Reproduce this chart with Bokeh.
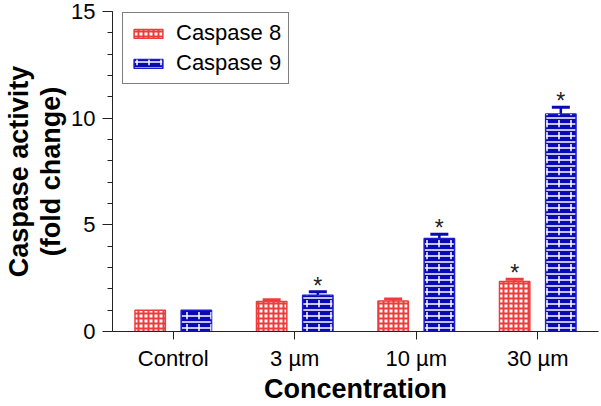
from bokeh.plotting import figure
from bokeh.models import (ColumnDataSource, FactorRange, Range1d, Whisker, TeeHead,
                          SingleIntervalTicker, FixedTicker, Legend, LegendItem, LinearAxis)
from bokeh.transform import dodge
from bokeh.core.properties import value
from bokeh.embed import file_html
from bokeh.resources import INLINE

# ---- data ----
categories = ["Control", "3 µm", "10 µm", "30 µm"]
series = ["Caspase 8", "Caspase 9"]
casp8 = [1.0, 1.41, 1.43, 2.34]
casp8_err = [0.0, 0.08, 0.09, 0.11]
casp9 = [1.0, 1.70, 4.36, 10.2]
casp9_err = [0.0, 0.16, 0.20, 0.31]
casp8_sig = [False, False, False, True]
casp9_sig = [False, True, True, True]
y_title_lines = ["Caspase activity", "(fold change)"]
x_title = "Concentration"

FONT = "Liberation Sans"
RED = "#ee3b3b"
BLUE = "#0a0ab4"
BLUE_LINE = "#1c1cd0"
OFF = 0.19

p = figure(width=600, height=406,
           x_range=FactorRange(factors=categories, range_padding=0),
           y_range=Range1d(0, 15),
           output_backend="svg", toolbar_location=None,
           min_border_left=110, min_border_right=2,
           min_border_top=11, min_border_bottom=72)
p.outline_line_color = None
p.xgrid.grid_line_color = None
p.ygrid.grid_line_color = None

src = ColumnDataSource(dict(cat=categories, c8=casp8, c9=casp9))

r8 = p.vbar(x=dodge("cat", -OFF, range=p.x_range), top="c8", width=0.25, source=src,
            fill_color="white", line_color=RED, line_width=1.5,
            hatch_pattern="cross", hatch_color=RED, hatch_scale=5, hatch_weight=2.0)
r9 = p.vbar(x=dodge("cat", OFF, range=p.x_range), top="c9", width=0.25, source=src,
            fill_color=BLUE, line_color=BLUE_LINE, line_width=1.5,
            hatch_pattern="horizontal_line", hatch_color="white",
            hatch_scale=6, hatch_weight=1.5)
r9b = p.vbar(x=dodge("cat", OFF, range=p.x_range), top="c9", width=0.25, source=src,
             fill_alpha=0, line_alpha=0,
             hatch_pattern="vertical_dash", hatch_color="white",
             hatch_scale=12, hatch_weight=1.5)

def whisker_source(vals, errs):
    keep = [i for i, e in enumerate(errs) if e > 0]
    return ColumnDataSource(dict(cat=[categories[i] for i in keep],
                                 lower=[vals[i] for i in keep],
                                 upper=[vals[i] + errs[i] for i in keep]))

for vals, errs, off, col in ((casp8, casp8_err, -OFF, RED), (casp9, casp9_err, OFF, BLUE)):
    w = Whisker(base=dodge("cat", off, range=p.x_range), lower="lower", upper="upper",
                source=whisker_source(vals, errs), dimension="height",
                upper_head=TeeHead(size=18, line_color=col, line_width=3),
                lower_head=None, line_color=col, line_width=2.5)
    p.add_layout(w)

for vals, errs, sig, off in ((casp8, casp8_err, casp8_sig, -OFF), (casp9, casp9_err, casp9_sig, OFF)):
    keep = [i for i, s in enumerate(sig) if s]
    ssrc = ColumnDataSource(dict(cat=[categories[i] for i in keep],
                                 y=[vals[i] + errs[i] for i in keep]))
    p.text(x=dodge("cat", off, range=p.x_range), y="y", text=value("*"), source=ssrc,
           text_align="center", text_baseline="alphabetic", text_font=value(FONT),
           text_font_size="23px", text_color="#222222", y_offset=-6)

legend = Legend(items=[LegendItem(label=series[0], renderers=[r8]),
                       LegendItem(label=series[1], renderers=[r9, r9b])],
                location=(10, 247), padding=7, spacing=4, label_standoff=10,
                glyph_width=36, glyph_height=11, margin=0,
                border_line_color="black", border_line_width=1,
                label_text_font=FONT, label_text_font_size="22px",
                label_text_color="black")
p.add_layout(legend)

# axes
xax = p.below[0]
yax = p.left[0]
for ax in (xax, yax):
    ax.axis_line_color = "#222222"
    ax.axis_line_width = 1
    ax.major_tick_line_color = "#222222"
    ax.minor_tick_line_color = "#222222"
    ax.major_tick_in = 0
    ax.minor_tick_in = 0
    ax.major_label_text_font = FONT
    ax.major_label_text_font_size = "22px"
    ax.major_label_text_color = "black"
    ax.axis_label_text_font = FONT
    ax.axis_label_text_font_style = "bold"
    ax.axis_label_text_color = "black"

xax.major_tick_out = 8
xax.major_label_standoff = 6
xax.axis_label = x_title
xax.axis_label_text_font_size = "27px"
xax.axis_label_standoff = 0

yax.ticker = SingleIntervalTicker(interval=5, num_minor_ticks=5)
yax.major_tick_out = 10
yax.minor_tick_out = 5
yax.major_label_standoff = 7
yax.axis_label = y_title_lines[1]
yax.axis_label_text_font_size = "27px"
yax.axis_label_standoff = 2

# outer, tick-less axis carrying the first line of the y title
outer = LinearAxis(ticker=FixedTicker(ticks=[]), axis_line_color=None,
                   major_tick_out=0, major_tick_in=0, minor_tick_out=0, minor_tick_in=0,
                   major_label_standoff=0, major_label_text_font_size="1px",
                   axis_label=y_title_lines[0], axis_label_standoff=0,
                   axis_label_text_font=FONT, axis_label_text_font_style="bold",
                   axis_label_text_font_size="27px", axis_label_text_color="black")
p.add_layout(outer, "left")

open("out.html", "w").write(file_html(p, INLINE))
